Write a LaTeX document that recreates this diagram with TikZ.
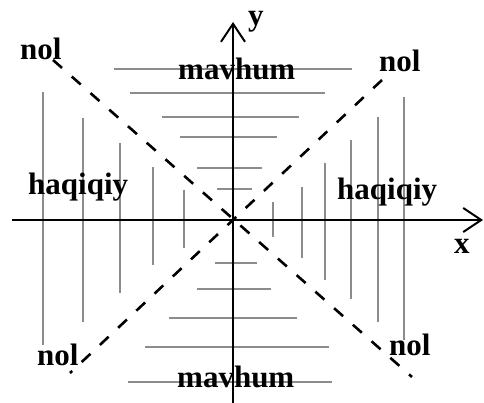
\documentclass[tikz,border=0pt]{standalone}
\usepackage{fontspec}
\setmainfont{Liberation Serif}
\usetikzlibrary{arrows.meta}
\definecolor{hatch}{RGB}{140,140,140}
\begin{document}
\begin{tikzpicture}[x=1pt,y=-1pt,
  lbl/.style={anchor=base west,inner sep=0pt,font=\fontsize{31}{31}\selectfont\bfseries},
  axis/.style={line width=2.2pt,-{Straight Barb[length=18pt,width=24pt,line width=2pt]}},
  axisplain/.style={line width=2.2pt},
  hatchline/.style={draw=hatch,line width=1.5pt},
  diag/.style={line width=2.6pt,dash pattern=on 12pt off 13pt}]
\useasboundingbox (0,0) rectangle (484,403);
% axis end points
\coordinate (O) at (233,220);
\coordinate (xl) at (12,220);
\coordinate (xr) at (483,220);
\coordinate (yb) at (233,403);
\coordinate (yt) at (233,22);
% horizontal hatching (top)
\foreach \y/\a/\b in {69/114/352, 93/130/325, 117/162/299, 137/180/277, 168/197/262, 189/217/252,
                      263/215/257, 289/197/271, 318/169/297, 347/145/329, 382/128/332}
  \draw[hatchline] (\a,\y) -- (\b,\y);
% vertical hatching
\foreach \x/\a/\b in {43/92/345, 83/118/322, 120/143/293, 153/167/265, 184/190/248,
                      273/202/237, 302/187/258, 325/163/280, 351/140/299, 378/117/322, 404/97/340}
  \draw[hatchline] (\x,\a) -- (\x,\b);
% diagonals
\coordinate (d1a) at (53,60);
\coordinate (d1b) at (412,377);
\coordinate (d2a) at (382,80);
\coordinate (d2b) at (70,373);
\draw[diag] (d1a) -- (d1b);
\draw[diag] (d2a) -- (d2b);
% axes
\draw[axis] (xl) -- (xr);
\draw[axis] (yb) -- (yt);
% labels
\node[lbl] (nolTL) at (20,60) {nol};
\node[lbl] (nolTR) at (379,72) {nol};
\node[lbl] (nolBL) at (37,365) {nol};
\node[lbl] (nolBR) at (389,355) {nol};
\node[lbl] (mavT) at (178,80) {mavhum};
\node[lbl] (mavB) at (177,387) {mavhum};
\node[lbl] (haqL) at (28,195) {haqiqiy};
\node[lbl] (haqR) at (337,200) {haqiqiy};
\node[lbl] (ylab) at (248,26) {y};
\node[lbl] (xlab) at (454,253) {x};
\end{tikzpicture}
\end{document}
